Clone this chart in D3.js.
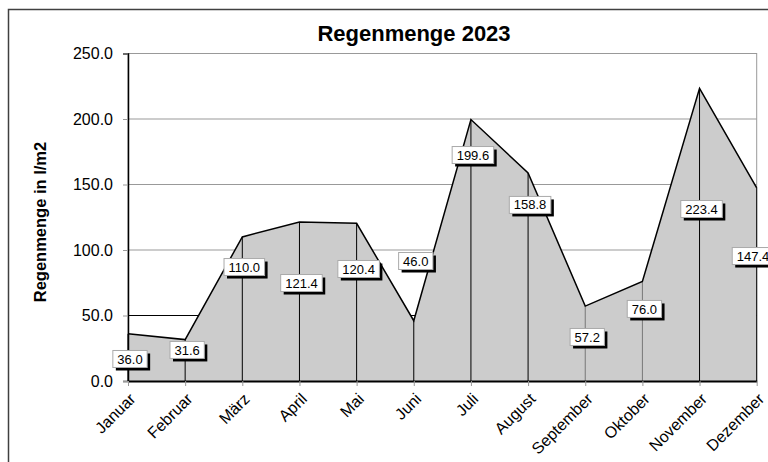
<!DOCTYPE html>
<html>
<head>
<meta charset="utf-8">
<script src="https://cdn.jsdelivr.net/npm/d3@7"></script>
<style>
  body { margin: 0; background: #fff; }
  svg { display: block; font-family: Arial, "Liberation Sans", sans-serif; }
</style>
</head>
<body>
<div id="chart"></div>
<script>
// months and rain amounts (l/m2)
const months = ["Januar", "Februar", "März", "April", "Mai", "Juni", "Juli",
                "August", "September", "Oktober", "November", "Dezember"];
const rain = [36.0, 31.6, 110.0, 121.4, 120.4, 46.0, 199.6, 158.8, 57.2, 76.0, 223.4, 147.4];
// where each value label sits, in l/m2 (labels were moved by hand in the original)
const labelAt = [16.8, 23.7, 87, 74.8, 85.5, 91.6, 172.5, 134.4, 33.6, 55, 131.3, 95.4];
const yTicks = [0, 50, 100, 150, 200, 250];

const width = 768, height = 462;
const margin = { top: 53.5, right: 11.3, bottom: 81, left: 128 };
const font = "Arial, 'Liberation Sans', sans-serif";

const svg = d3.select("#chart").append("svg")
    .attr("width", width)
    .attr("height", height);

// outer chart frame (runs off the picture on right and bottom)
svg.append("rect")
    .attr("x", 8.5).attr("y", 9.5)
    .attr("width", 820).attr("height", 500)
    .attr("fill", "none")
    .attr("stroke", "#404040")
    .attr("stroke-width", 1.5);

const x = d3.scalePoint().domain(months)
    .range([margin.left, width - margin.right]);

const y = d3.scaleLinear().domain([0, 250])
    .range([height - margin.bottom, margin.top]);

// plot area border
svg.append("rect")
    .attr("x", margin.left).attr("y", margin.top)
    .attr("width", width - margin.right - margin.left)
    .attr("height", y(0) - margin.top)
    .attr("fill", "none")
    .attr("stroke", "#999")
    .attr("stroke-width", 1);

// horizontal gridlines
svg.append("g")
    .selectAll("line")
    .data(yTicks.filter(d => d > 0))
    .join("line")
    .attr("x1", margin.left)
    .attr("x2", width - margin.right)
    .attr("y1", d => y(d))
    .attr("y2", d => y(d))
    .attr("stroke", d => d === 50 ? "#000" : "#999")
    .attr("stroke-width", 1);

const area = d3.area()
    .x((d, i) => x(months[i]))
    .y0(y(0))
    .y1(d => y(d));

svg.append("path")
    .datum(rain)
    .attr("d", area)
    .attr("fill", "#cccccc");

// drop lines
svg.append("g")
    .selectAll("line")
    .data(rain)
    .join("line")
    .attr("x1", (d, i) => x(months[i]))
    .attr("x2", (d, i) => x(months[i]))
    .attr("y1", d => y(d))
    .attr("y2", y(0))
    .attr("stroke", (d, i) => (i === 8 || i === 9) ? "#777" : "#000")
    .attr("stroke-width", 1);

const line = d3.line()
    .x((d, i) => x(months[i]))
    .y(d => y(d));

svg.append("path")
    .datum(rain)
    .attr("d", line)
    .attr("fill", "none")
    .attr("stroke", "#000")
    .attr("stroke-width", 1.5);

// axes
const yAxis = g => g
    .attr("transform", `translate(${margin.left},0)`)
    .call(d3.axisLeft(y).tickValues(yTicks).tickFormat(d3.format(".1f")).tickSize(5).tickPadding(10))
    .call(g => g.select(".domain").attr("stroke", "#000").attr("stroke-width", 1.5))
    .call(g => g.selectAll(".tick line").attr("stroke", "#999"))
    .call(g => g.selectAll("text").attr("font-size", 16).attr("fill", "#000")
        .attr("font-family", font));

const xAxis = g => g
    .attr("transform", `translate(0,${y(0)})`)
    .call(d3.axisBottom(x).tickSize(5).tickSizeOuter(0))
    .call(g => g.select(".domain").attr("stroke", "#000").attr("stroke-width", 2))
    .call(g => g.selectAll(".tick line").attr("stroke", "#999"))
    .call(g => g.selectAll("text")
        .attr("font-size", 16)
        .attr("fill", "#000")
        .attr("font-family", font)
        .style("text-anchor", "end")
        .attr("y", 0)
        .attr("dy", "0.35em")
        .attr("transform", "translate(4,15) rotate(-45)"));

svg.append("g").call(yAxis);
svg.append("g").call(xAxis);

// value labels: white box with black shadow, kept inside the picture
const labels = svg.append("g")
    .selectAll("g")
    .data(rain)
    .join("g")
    .attr("transform", (d, i) => `translate(${Math.min(x(months[i]) + 2, width - 15)},${y(labelAt[i])})`);

labels.append("text")
    .attr("text-anchor", "middle")
    .attr("dy", "0.35em")
    .attr("font-size", 13)
    .text(d => d.toFixed(1))
    .each(function() {
        const b = this.getBBox();
        const g = d3.select(this.parentNode);
        const w = b.width + 9, h = 17;
        g.insert("rect", "text")
            .attr("x", -w / 2 + 3).attr("y", -h / 2 + 3)
            .attr("width", w).attr("height", h)
            .attr("fill", "#000");
        g.insert("rect", "text")
            .attr("x", -w / 2).attr("y", -h / 2)
            .attr("width", w).attr("height", h)
            .attr("fill", "#fff")
            .attr("stroke", "#aaa")
            .attr("stroke-width", 1);
    });

// titles
svg.append("text")
    .attr("x", 414).attr("y", 41)
    .attr("text-anchor", "middle")
    .attr("font-size", 22)
    .attr("font-weight", "bold")
    .text("Regenmenge 2023");

svg.append("text")
    .attr("transform", "translate(46,222) rotate(-90)")
    .attr("text-anchor", "middle")
    .attr("font-size", 16.5)
    .attr("font-weight", "bold")
    .text("Regenmenge in l/m2");
</script>
</body>
</html>
